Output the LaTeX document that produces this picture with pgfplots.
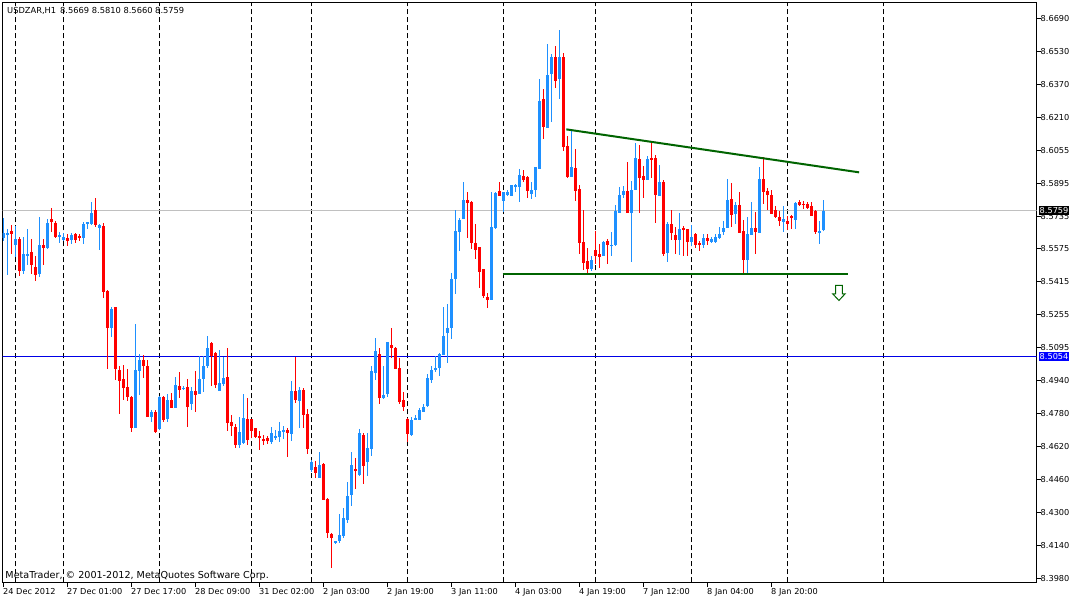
\documentclass[border=0pt]{standalone}
\usepackage{pgfplots}
\pgfplotsset{compat=1.18}
\usepackage{pgfplotstable}
\usepackage{fontspec}
\setmainfont{DejaVu Sans}
\definecolor{bull}{RGB}{30,144,255}
\definecolor{bear}{RGB}{255,0,0}
\definecolor{tline}{RGB}{0,100,0}
\definecolor{bidline}{RGB}{192,192,192}
\definecolor{lvl}{RGB}{0,0,230}

\pgfplotstableread{
i o h l c
0 8.5630 8.5722 8.5615 8.5654
1 8.5644 8.5669 8.5451 8.5654
2 8.5659 8.5688 8.5552 8.5649
3 8.5596 8.5683 8.5538 8.5625
4 8.5625 8.5630 8.5446 8.5470
5 8.5470 8.5630 8.5456 8.5552
6 8.5543 8.5669 8.5499 8.5552
7 8.5562 8.5620 8.5456 8.5499
8 8.5490 8.5538 8.5422 8.5451
9 8.5451 8.5727 8.5441 8.5591
10 8.5596 8.5620 8.5499 8.5582
11 8.5582 8.5717 8.5577 8.5703
12 8.5722 8.5770 8.5659 8.5707
13 8.5698 8.5707 8.5630 8.5635
14 8.5630 8.5654 8.5606 8.5644
15 8.5620 8.5649 8.5615 8.5635
16 8.5630 8.5644 8.5591 8.5611
17 8.5620 8.5649 8.5601 8.5644
18 8.5649 8.5649 8.5606 8.5620
19 8.5635 8.5644 8.5615 8.5625
20 8.5630 8.5703 8.5601 8.5698
21 8.5693 8.5703 8.5674 8.5703
22 8.5693 8.5799 8.5693 8.5746
23 8.5765 8.5819 8.5683 8.5693
24 8.5678 8.5693 8.5572 8.5688
25 8.5688 8.5698 8.5340 8.5369
26 8.5369 8.5374 8.4996 8.5194
27 8.5194 8.5291 8.5151 8.5286
28 8.5291 8.5291 8.4943 8.4991
29 8.4986 8.5005 8.4778 8.4933
30 8.4943 8.5010 8.4846 8.4904
31 8.4909 8.4991 8.4841 8.4856
32 8.4860 8.4860 8.4691 8.4710
33 8.4710 8.5209 8.4710 8.4991
34 8.4986 8.5064 8.4870 8.5039
35 8.5035 8.5059 8.4952 8.5010
36 8.5010 8.5035 8.4764 8.4764
37 8.4764 8.4793 8.4740 8.4788
38 8.4788 8.4793 8.4686 8.4691
39 8.4701 8.4860 8.4701 8.4860
40 8.4860 8.4860 8.4740 8.4749
41 8.4754 8.4870 8.4740 8.4846
42 8.4846 8.4875 8.4807 8.4807
43 8.4807 8.4952 8.4807 8.4918
44 8.4914 8.4976 8.4856 8.4894
45 8.4899 8.4909 8.4894 8.4904
46 8.4909 8.4943 8.4715 8.4812
47 8.4822 8.4904 8.4797 8.4885
48 8.4885 8.4981 8.4788 8.4870
49 8.4875 8.5054 8.4875 8.4947
50 8.4943 8.5054 8.4885 8.5010
51 8.5010 8.5151 8.5000 8.5093
52 8.5122 8.5122 8.4914 8.5059
53 8.5073 8.5073 8.4904 8.4914
54 8.4889 8.5083 8.4889 8.4928
55 8.4923 8.5049 8.4914 8.4952
56 8.4957 8.5093 8.4696 8.4730
57 8.4735 8.4769 8.4672 8.4720
58 8.4715 8.4725 8.4614 8.4628
59 8.4628 8.4759 8.4614 8.4691
60 8.4638 8.4870 8.4633 8.4759
61 8.4754 8.4851 8.4628 8.4652
62 8.4749 8.4749 8.4662 8.4691
63 8.4706 8.4706 8.4662 8.4667
64 8.4672 8.4691 8.4604 8.4662
65 8.4657 8.4672 8.4628 8.4648
66 8.4657 8.4667 8.4633 8.4643
67 8.4643 8.4710 8.4633 8.4686
68 8.4662 8.4696 8.4652 8.4672
69 8.4667 8.4735 8.4643 8.4696
70 8.4691 8.4715 8.4657 8.4701
71 8.4701 8.4706 8.4570 8.4686
72 8.4681 8.4933 8.4648 8.4889
73 8.4889 8.5049 8.4831 8.4841
74 8.4841 8.4904 8.4710 8.4894
75 8.4894 8.4899 8.4710 8.4773
76 8.4778 8.4797 8.4584 8.4609
77 8.4507 8.4551 8.4498 8.4546
78 8.4522 8.4546 8.4468 8.4493
79 8.4468 8.4589 8.4468 8.4531
80 8.4536 8.4536 8.4362 8.4362
81 8.4367 8.4367 8.4178 8.4202
82 8.4197 8.4197 8.4033 8.4178
83 8.4149 8.4159 8.4149 8.4159
84 8.4159 8.4289 8.4154 8.4192
85 8.4188 8.4318 8.4178 8.4275
86 8.4265 8.4444 8.4251 8.4381
87 8.4386 8.4589 8.4333 8.4531
88 8.4512 8.4560 8.4415 8.4502
89 8.4483 8.4701 8.4478 8.4686
90 8.4677 8.4681 8.4439 8.4527
91 8.4541 8.4681 8.4478 8.4609
92 8.4609 8.5005 8.4575 8.4986
93 8.4976 8.5141 8.4943 8.5078
94 8.5068 8.5093 8.4826 8.4856
95 8.4851 8.5005 8.4851 8.4870
96 8.4870 8.5122 8.4860 8.5122
97 8.5107 8.5190 8.5049 8.5093
98 8.5098 8.5098 8.4996 8.4996
99 8.5000 8.5044 8.4826 8.4836
100 8.4841 8.4880 8.4793 8.4807
101 8.4754 8.4754 8.4643 8.4677
102 8.4677 8.4759 8.4672 8.4749
103 8.4749 8.4769 8.4749 8.4759
104 8.4749 8.4802 8.4749 8.4797
105 8.4788 8.4822 8.4788 8.4812
106 8.4812 8.4967 8.4812 8.4952
107 8.4943 8.5005 8.4928 8.4991
108 8.4991 8.5054 8.4981 8.5000
109 8.5000 8.5068 8.4962 8.5068
110 8.5064 8.5291 8.5064 8.5156
111 8.5170 8.5306 8.5025 8.5194
112 8.5194 8.5456 8.5141 8.5432
113 8.5432 8.5761 8.5359 8.5664
114 8.5659 8.5722 8.5567 8.5717
115 8.5722 8.5896 8.5722 8.5814
116 8.5809 8.5848 8.5630 8.5795
117 8.5804 8.5804 8.5577 8.5606
118 8.5606 8.5693 8.5528 8.5572
119 8.5582 8.5582 8.5388 8.5461
120 8.5475 8.5475 8.5340 8.5345
121 8.5345 8.5359 8.5291 8.5330
122 8.5330 8.5848 8.5330 8.5683
123 8.5678 8.5848 8.5674 8.5848
124 8.5857 8.5896 8.5833 8.5833
125 8.5809 8.5848 8.5756 8.5848
126 8.5838 8.5857 8.5833 8.5853
127 8.5833 8.5882 8.5833 8.5882
128 8.5877 8.5886 8.5853 8.5886
129 8.5872 8.5959 8.5804 8.5930
130 8.5930 8.5954 8.5901 8.5911
131 8.5925 8.5925 8.5824 8.5857
132 8.5843 8.5896 8.5819 8.5862
133 8.5862 8.5969 8.5828 8.5969
134 8.5964 8.6395 8.5964 8.6293
135 8.6303 8.6346 8.6109 8.6167
136 8.6162 8.6564 8.6162 8.6419
137 8.6424 8.6516 8.6191 8.6506
138 8.6506 8.6554 8.6356 8.6390
139 8.6395 8.6632 8.6303 8.6506
140 8.6506 8.6520 8.6051 8.6070
141 8.6075 8.6119 8.5920 8.5925
142 8.5925 8.6148 8.5925 8.5974
143 8.5969 8.6056 8.5809 8.5857
144 8.5862 8.5882 8.5552 8.5601
145 8.5611 8.5761 8.5475 8.5509
146 8.5519 8.5577 8.5456 8.5480
147 8.5480 8.5538 8.5470 8.5523
148 8.5572 8.5659 8.5504 8.5543
149 8.5552 8.5596 8.5485 8.5538
150 8.5543 8.5611 8.5543 8.5611
151 8.5611 8.5620 8.5504 8.5596
152 8.5591 8.5654 8.5543 8.5596
153 8.5591 8.5785 8.5591 8.5756
154 8.5751 8.5872 8.5751 8.5838
155 8.5833 8.5877 8.5824 8.5853
156 8.5857 8.5993 8.5751 8.5751
157 8.5751 8.5901 8.5514 8.5862
158 8.5862 8.6085 8.5862 8.6017
159 8.6012 8.6075 8.5751 8.5920
160 8.5930 8.5974 8.5824 8.5911
161 8.5911 8.6022 8.5911 8.6012
162 8.6017 8.6085 8.5920 8.6007
163 8.6017 8.6027 8.5703 8.5838
164 8.5833 8.5978 8.5833 8.5901
165 8.5901 8.5906 8.5543 8.5548
166 8.5557 8.5703 8.5514 8.5693
167 8.5698 8.5761 8.5620 8.5654
168 8.5644 8.5678 8.5552 8.5620
169 8.5620 8.5746 8.5548 8.5674
170 8.5674 8.5683 8.5543 8.5664
171 8.5669 8.5669 8.5543 8.5606
172 8.5611 8.5688 8.5591 8.5635
173 8.5649 8.5649 8.5582 8.5596
174 8.5601 8.5611 8.5567 8.5591
175 8.5591 8.5644 8.5582 8.5625
176 8.5630 8.5644 8.5596 8.5611
177 8.5611 8.5630 8.5606 8.5625
178 8.5611 8.5644 8.5606 8.5635
179 8.5625 8.5678 8.5625 8.5649
180 8.5654 8.5707 8.5644 8.5678
181 8.5678 8.5911 8.5678 8.5814
182 8.5819 8.5891 8.5683 8.5741
183 8.5746 8.5799 8.5698 8.5790
184 8.5790 8.5848 8.5654 8.5654
185 8.5664 8.5712 8.5456 8.5519
186 8.5523 8.5727 8.5461 8.5649
187 8.5644 8.5799 8.5644 8.5678
188 8.5678 8.5751 8.5552 8.5654
189 8.5654 8.5969 8.5654 8.5915
190 8.5915 8.6017 8.5795 8.5848
191 8.5853 8.5867 8.5765 8.5833
192 8.5838 8.5857 8.5746 8.5746
193 8.5761 8.5780 8.5727 8.5727
194 8.5732 8.5756 8.5688 8.5712
195 8.5707 8.5780 8.5659 8.5717
196 8.5712 8.5732 8.5669 8.5698
197 8.5732 8.5736 8.5674 8.5722
198 8.5717 8.5799 8.5674 8.5799
199 8.5804 8.5809 8.5785 8.5790
200 8.5795 8.5804 8.5770 8.5790
201 8.5790 8.5799 8.5770 8.5775
202 8.5785 8.5799 8.5736 8.5736
203 8.5761 8.5761 8.5649 8.5659
204 8.5654 8.5707 8.5601 8.5664
205 8.5669 8.5810 8.5660 8.5759
}\candles

\pgfplotsset{
  candle/.style={draw=none, mark=none, forget plot},
}

\begin{document}
\begin{tikzpicture}
\path[use as bounding box] (0,0) rectangle (1075bp,599bp);
\fill[white] (0,0) rectangle (1075bp,599bp);
\begin{axis}[
  at={(2.5bp,16.5bp)}, anchor=south west,
  width=1034bp, height=580bp, scale only axis,
  xmin=-0.25, xmax=258.25, ymin=8.3960, ymax=8.6767,
  axis line style={line width=1bp, black},
  tick align=outside, major tick length=4bp,
  tick style={black, line width=1bp},
  xtick pos=left, ytick pos=right,
  xtick={0,16,32,48,64,80,96,112,128,144,160,176,192},
  xticklabels={24 Dec 2012,27 Dec 01:00,27 Dec 17:00,28 Dec 09:00,31 Dec 02:00,2 Jan 03:00,2 Jan 19:00,3 Jan 11:00,4 Jan 03:00,4 Jan 19:00,7 Jan 12:00,8 Jan 04:00,8 Jan 20:00},
  xticklabel style={anchor=north west, inner sep=0pt, xshift=-0.5bp, yshift=-1.5bp},
  ytick={8.3980,8.41394,8.42988,8.44582,8.46176,8.47771,8.49365,8.50959,8.52553,8.54147,8.55741,8.57335,8.58929,8.60524,8.62118,8.63712,8.65306,8.6690},
  yticklabels={8.3980,8.4140,8.4300,8.4460,8.4620,8.4780,8.4940,8.5095,8.5255,8.5415,8.5575,8.5735,8.5895,8.6055,8.6210,8.6370,8.6530,8.6690},
  yticklabel pos=right,
  yticklabel style={anchor=west, inner sep=0pt},
  tick label style={font=\fontsize{8.2bp}{9bp}\selectfont},
  extra x ticks={3,15,39,62,77,101,125,148,172,196,220},
  extra x tick labels={},
  extra x tick style={grid=major, major grid style={black, line width=1bp, dash pattern=on 5bp off 3bp}, major tick length=0pt},
  clip mode=individual,
]
% level lines
\addplot[bidline, line width=1bp, forget plot] coordinates {(-1,8.5759) (260,8.5759)};
\addplot[lvl, line width=1bp, forget plot] coordinates {(-1,8.5054) (260,8.5054)};
% wicks (vertical segments from low to high)
\addplot[forget plot, mark=none, draw=bull, line width=1bp,
  restrict expr to domain={\thisrow{c}-\thisrow{o}}{0:10},
  quiver={u=0, v={\thisrow{h}-\thisrow{l}+0.00024},
    every arrow/.append style={draw=bull, line width=1bp}}]
  table[x=i, y expr={\thisrow{l}-0.00012}] {\candles};
\addplot[forget plot, mark=none, draw=bear, line width=1bp,
  restrict expr to domain={\thisrow{c}-\thisrow{o}}{-10:-0.00002},
  quiver={u=0, v={\thisrow{h}-\thisrow{l}+0.00024},
    every arrow/.append style={draw=bear, line width=1bp}}]
  table[x=i, y expr={\thisrow{l}-0.00012}] {\candles};
% bodies
\addplot[candle, color=bull,
  restrict expr to domain={\thisrow{c}-\thisrow{o}}{0:10},
  error bars/.cd, y dir=both, y explicit, error mark=none,
  error bar style={line width=3bp, color=bull}]
  table[x=i, y expr={(\thisrow{o}+\thisrow{c})/2}, y error expr={max(abs(\thisrow{c}-\thisrow{o})/2,0.00025)}] {\candles};
\addplot[candle, color=bear,
  restrict expr to domain={\thisrow{c}-\thisrow{o}}{-10:-0.00002},
  error bars/.cd, y dir=both, y explicit, error mark=none,
  error bar style={line width=3bp, color=bear}]
  table[x=i, y expr={(\thisrow{o}+\thisrow{c})/2}, y error expr={max(abs(\thisrow{c}-\thisrow{o})/2,0.00025)}] {\candles};
% trend lines
\addplot[tline, line width=2bp, forget plot] coordinates {(140.7,8.6153) (213.9,8.5945)};
\addplot[tline, line width=2bp, forget plot] coordinates {(124.75,8.5453) (211.1,8.5453)};
% arrow
\addplot[tline, line width=1bp, forget plot] coordinates {(208.0,8.5398) (209.7,8.5398) (209.7,8.5357) (210.4,8.5357) (208.85,8.5325) (207.3,8.5357) (208.0,8.5357)} -- cycle;
\coordinate (tagA) at (axis cs:258.25,8.5759);
\coordinate (tagB) at (axis cs:258.25,8.5054);
\end{axis}
\node[anchor=west, fill=black, text=white, inner xsep=1bp, inner ysep=1.5bp, font=\fontsize{8.2bp}{9bp}\selectfont, xshift=2bp] at (tagA) {8.5759};
\node[anchor=west, fill=blue, text=white, inner xsep=1bp, inner ysep=1.5bp, font=\fontsize{8.2bp}{9bp}\selectfont, xshift=2bp] at (tagB) {8.5054};
\node[anchor=base west, inner sep=0pt, font=\fontsize{8.3bp}{9bp}\selectfont] at (7bp,585bp) {USDZAR,H1\hspace{4bp}8.5669 8.5810 8.5660 8.5759};
\node[anchor=base west, inner sep=0pt, font=\fontsize{9.6bp}{10bp}\selectfont] at (5.3bp,21bp) {MetaTrader, © 2001-2012, MetaQuotes Software Corp.};
\end{tikzpicture}
\end{document}
